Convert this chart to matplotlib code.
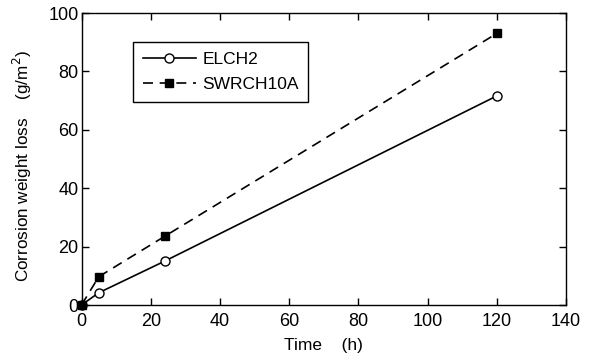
import matplotlib
matplotlib.use("Agg")
import matplotlib.pyplot as plt

plt.rcParams['font.family'] = ['Liberation Sans', 'DejaVu Sans']

time_elch2 = [0, 5, 24, 120]
loss_elch2 = [0, 4.2, 15.0, 71.6]
time_swrch = [0, 5, 24, 120]
loss_swrch = [0, 9.7, 23.5, 93.0]

fig = plt.figure(figsize=(5.94, 3.6), dpi=100)
ax = fig.add_axes([81.5 / 594, 1 - 305 / 360, 484.5 / 594, 292 / 360])

ax.plot(time_elch2, loss_elch2, '-', color='black', lw=1.2,
        marker='o', mfc='white', mec='black', ms=6.5, label='ELCH2')
ax.plot(time_swrch, loss_swrch, '--', color='black', lw=1.2, dashes=(6, 4),
        marker='s', mfc='black', mec='black', ms=5.5, label='SWRCH10A')

ax.set_xlim(0, 140)
ax.set_ylim(0, 100)
ax.set_xticks(range(0, 141, 20))
ax.set_yticks(range(0, 101, 20))
ax.tick_params(direction='in', top=True, right=True, length=5, width=1,
               labelsize=13)
ax.tick_params(axis='x', pad=6)
ax.tick_params(axis='y', pad=2)
for s in ax.spines.values():
    s.set_linewidth(1)

ax.set_xlabel('Time    (h)', fontsize=12.5)
ax.xaxis.set_label_coords(0.5, -33 / 292, transform=ax.transAxes)
ax.set_ylabel('Corrosion weight loss    (g/m$^2$)', fontsize=12.3)
ax.yaxis.set_label_coords(-48 / 484.5, 0.475, transform=ax.transAxes)

leg = ax.legend(loc='upper left', bbox_to_anchor=(51.5 / 484.5, 1 - 29 / 292),
                fontsize=12.5, frameon=True, fancybox=False, edgecolor='black',
                handlelength=3.1, borderpad=0.55, labelspacing=0.6,
                handletextpad=0.35, borderaxespad=0, framealpha=1)
leg.get_frame().set_linewidth(1)

for line in ax.lines:
    line.set_clip_on(False)

fig.savefig('out.png', dpi=100)
